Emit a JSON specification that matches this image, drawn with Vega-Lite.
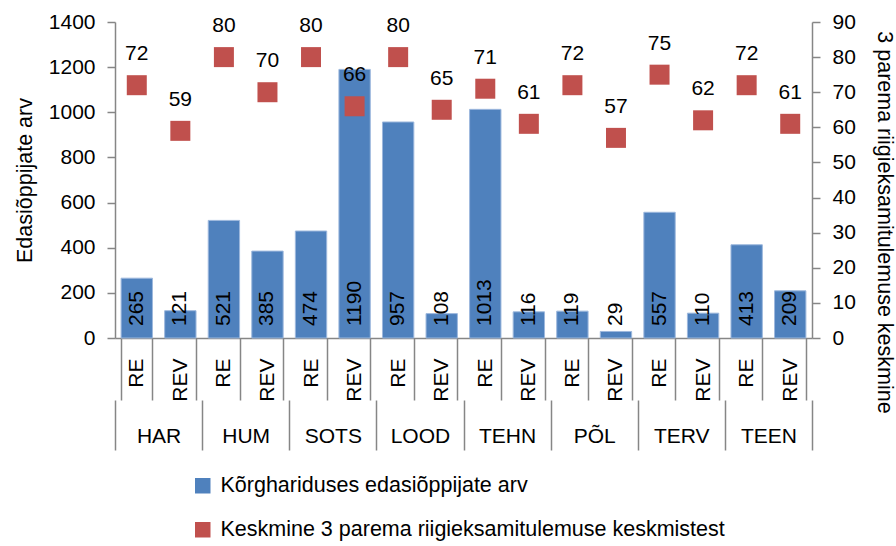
{
  "$schema": "https://vega.github.io/schema/vega-lite/v6.json",
  "width": 697,
  "height": 316,
  "autosize": {"type": "none"},
  "padding": {"left": 115, "top": 22, "right": 84, "bottom": 208},
  "background": "#ffffff",
  "config": {
    "font": "Liberation Sans",
    "view": {"stroke": null},
    "axis": {
      "labelFont": "Liberation Sans",
      "titleFont": "Liberation Sans",
      "labelFontSize": 21,
      "titleFontSize": 21.5,
      "titleFontWeight": "normal",
      "labelColor": "#000000",
      "titleColor": "#000000",
      "domainColor": "#868686",
      "tickColor": "#868686",
      "domainWidth": 1.5,
      "tickWidth": 1.5,
      "grid": false,
      "labelOverlap": false
    },
    "legend": {
      "labelFont": "Liberation Sans",
      "labelFontSize": 21.5,
      "labelColor": "#000000",
      "labelLimit": 0
    }
  },
  "data": {
    "values": [
      {"key": "HAR|RE", "group": "HAR", "sub": "RE", "count": 265, "score": 72},
      {"key": "HAR|REV", "group": "HAR", "sub": "REV", "count": 121, "score": 59},
      {"key": "HUM|RE", "group": "HUM", "sub": "RE", "count": 521, "score": 80},
      {"key": "HUM|REV", "group": "HUM", "sub": "REV", "count": 385, "score": 70},
      {"key": "SOTS|RE", "group": "SOTS", "sub": "RE", "count": 474, "score": 80},
      {"key": "SOTS|REV", "group": "SOTS", "sub": "REV", "count": 1190, "score": 66},
      {"key": "LOOD|RE", "group": "LOOD", "sub": "RE", "count": 957, "score": 80},
      {"key": "LOOD|REV", "group": "LOOD", "sub": "REV", "count": 108, "score": 65},
      {"key": "TEHN|RE", "group": "TEHN", "sub": "RE", "count": 1013, "score": 71},
      {"key": "TEHN|REV", "group": "TEHN", "sub": "REV", "count": 116, "score": 61},
      {"key": "PÕL|RE", "group": "PÕL", "sub": "RE", "count": 119, "score": 72},
      {"key": "PÕL|REV", "group": "PÕL", "sub": "REV", "count": 29, "score": 57},
      {"key": "TERV|RE", "group": "TERV", "sub": "RE", "count": 557, "score": 75},
      {"key": "TERV|REV", "group": "TERV", "sub": "REV", "count": 110, "score": 62},
      {"key": "TEEN|RE", "group": "TEEN", "sub": "RE", "count": 413, "score": 72},
      {"key": "TEEN|REV", "group": "TEEN", "sub": "REV", "count": 209, "score": 61}
    ]
  },
  "layer": [
    {
      "layer": [
        {
          "mark": {"type": "bar", "stroke": "#9db8dd", "strokeWidth": 1},
          "encoding": {
            "x": {
              "field": "key", "type": "nominal", "sort": null,
              "scale": {"paddingInner": 0.28, "paddingOuter": 0.14},
              "axis": {
                "orient": "bottom",
                "title": null,
                "labelExpr": "split(datum.value, '|')[1]",
                "labelAngle": -90,
                "labelAlign": "right",
                "labelBaseline": "middle",
                "tickBand": "extent",
                "tickSize": 62,
                "labelPadding": -42
              }
            },
            "y": {
              "field": "count", "type": "quantitative",
              "scale": {"domain": [0, 1400], "nice": false},
              "axis": {
                "title": "Edasiõppijate arv",
                "values": [0, 200, 400, 600, 800, 1000, 1200, 1400],
                "format": "d",
                "tickSize": 8,
                "labelPadding": 12,
                "titleX": -90,
                "titleAlign": "center",
                "titleBaseline": "middle"
              }
            },
            "color": {
              "datum": "Kõrghariduses edasiõppijate arv",
              "type": "nominal",
              "scale": {
                "domain": ["Kõrghariduses edasiõppijate arv", "Keskmine 3 parema riigieksamitulemuse keskmistest"],
                "range": ["#4F81BD", "#C0504D"]
              },
              "legend": {
                "title": null,
                "orient": "none",
                "legendX": 77,
                "legendY": 453,
                "direction": "vertical",
                "symbolType": "square",
                "symbolSize": 240,
                "symbolStrokeWidth": 0,
                "rowPadding": 21,
                "labelOffset": 7
              }
            }
          }
        },
        {
          "mark": {"type": "text", "angle": 270, "align": "left", "baseline": "middle", "dx": 12, "fontSize": 21, "color": "#000000"},
          "encoding": {
            "x": {"field": "key", "type": "nominal", "sort": null},
            "y": {"datum": 0, "type": "quantitative"},
            "text": {"field": "count", "type": "quantitative"}
          }
        }
      ]
    },
    {
      "layer": [
        {
          "mark": {"type": "point", "shape": "square", "filled": true, "size": 400, "opacity": 1},
          "encoding": {
            "x": {
              "field": "key", "type": "nominal", "sort": null,
              "scale": {"paddingInner": 0.28, "paddingOuter": 0.14},
              "axis": null
            },
            "y": {
              "field": "score", "type": "quantitative",
              "scale": {"domain": [0, 90], "nice": false},
              "axis": {
                "orient": "right",
                "title": "3 parema riigieksamitulemuse keskmine",
                "values": [0, 10, 20, 30, 40, 50, 60, 70, 80, 90],
                "tickSize": 8,
                "labelPadding": 12,
                "titleAngle": 90,
                "titleX": 71,
                "titleY": 200,
                "titleAlign": "center",
                "titleBaseline": "middle"
              }
            },
            "color": {"datum": "Keskmine 3 parema riigieksamitulemuse keskmistest", "type": "nominal"}
          }
        },
        {
          "mark": {"type": "text", "dy": -31, "fontSize": 21, "baseline": "middle", "color": "#000000"},
          "encoding": {
            "x": {"field": "key", "type": "nominal", "sort": null},
            "y": {
              "field": "score", "type": "quantitative",
              "axis": {
                "orient": "right",
                "title": "3 parema riigieksamitulemuse keskmine",
                "values": [0, 10, 20, 30, 40, 50, 60, 70, 80, 90],
                "tickSize": 8,
                "labelPadding": 12,
                "titleAngle": 90,
                "titleX": 71,
                "titleY": 200,
                "titleAlign": "center",
                "titleBaseline": "middle"
              }
            },
            "text": {"field": "score", "type": "quantitative"}
          }
        }
      ]
    },
    {
      "mark": {"type": "point", "opacity": 0},
      "encoding": {
        "x": {
          "field": "group", "type": "nominal", "sort": null,
          "scale": {"paddingInner": 0, "paddingOuter": 0},
          "axis": {
            "orient": "bottom",
            "title": null,
            "offset": 62,
            "domain": false,
            "labelAngle": 0,
            "tickBand": "extent",
            "tickSize": 50,
            "labelPadding": -14,
            "labelBaseline": "middle"
          }
        }
      }
    }
  ],
  "resolve": {
    "scale": {"x": "independent", "y": "independent"},
    "axis": {"x": "independent", "y": "independent"}
  }
}
